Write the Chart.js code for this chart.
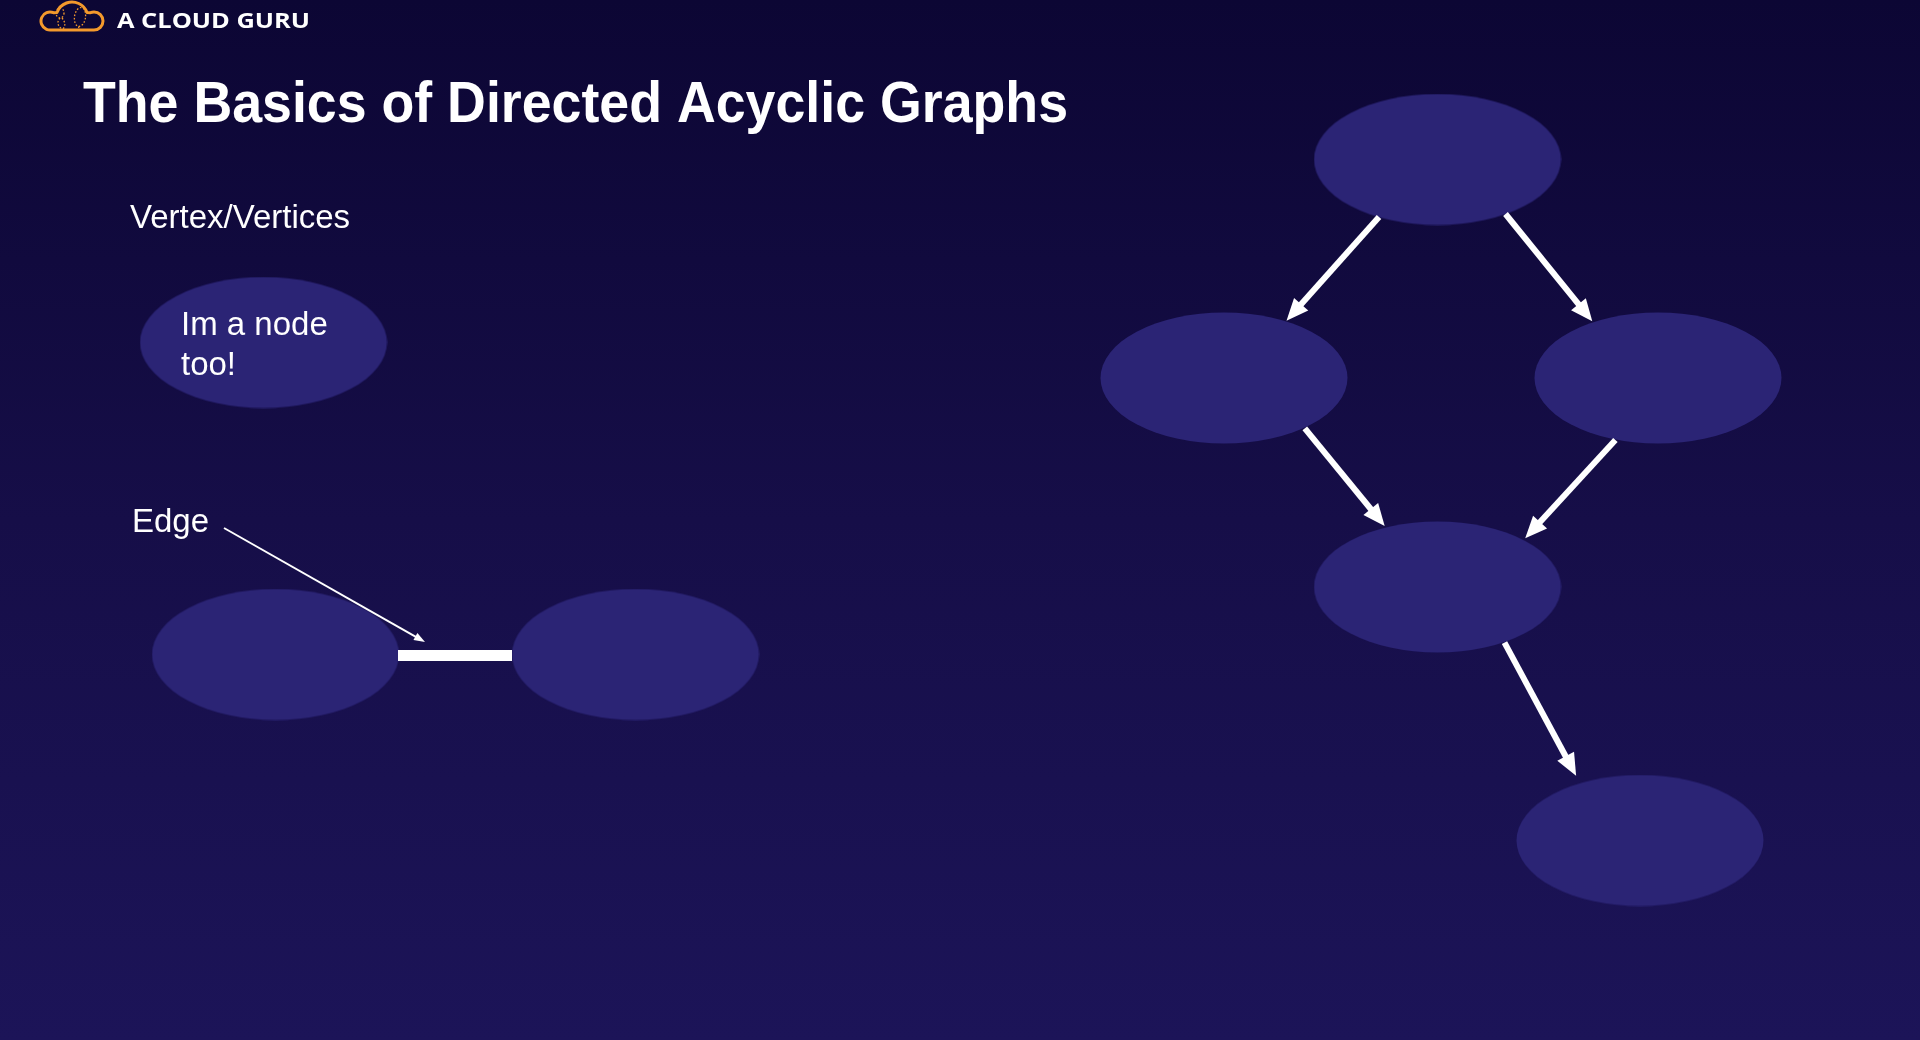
<!DOCTYPE html>
<html>
<head>
<meta charset="utf-8">
<title>The Basics of Directed Acyclic Graphs</title>
<script src="https://cdn.jsdelivr.net/npm/chart.js@4.4.1/dist/chart.umd.min.js"></script>
<style>
  html, body { margin: 0; padding: 0; background: #0d0735; overflow: hidden; }
  canvas { display: block; }
</style>
</head>
<body>
<canvas id="dagChart" width="1920" height="1040"></canvas>
<script>
// slide data, in slide units (0..1920 across, 0..1040 down)
const nodeX = [263.5, 275.5, 635.5, 1437.5, 1224, 1658, 1437.5, 1640];
const nodeY = [342.5, 654.5, 654.5, 159.5, 378, 378, 587, 840.5];
const nodeLabels = [["Im a node", "too!"], [], [], [], [], [], [], []];

// directed edges of the DAG (start on source node, tip on target node)
const arrowFromX = [1379, 1505.5, 1304.8, 1615.4, 1504.5];
const arrowFromY = [217, 214, 428.3, 440, 642.7];
const arrowToX = [1286.5, 1592.3, 1384.7, 1525.2, 1576.1];
const arrowToY = [320.7, 321.3, 526, 538.3, 775.7];

// plain edge between the two example nodes
const edgeX = [398, 512];
const edgeY = [655.5, 655.5];

// thin pointer from the "Edge" caption
const pointerX = [224, 425];
const pointerY = [528, 642];

const captions = ["Vertex/Vertices", "Edge"];
const captionX = [130, 132];
const captionY = [228.3, 531.7];

const titleText = "The Basics of Directed Acyclic Graphs";
const brandText = "A CLOUD GURU";

const nodeColor = "#2b2475";
const lineColor = "#ffffff";

// ellipse used as point style for every node
const nodeImg = document.createElement("canvas");
nodeImg.width = 248;
nodeImg.height = 132;
(function () {
  const c = nodeImg.getContext("2d");
  c.fillStyle = nodeColor;
  c.beginPath();
  c.ellipse(124, 66, 123.5, 65.5, 0, 0, Math.PI * 2);
  c.fill();
})();

function fitText(ctx, text, x, y, width) {
  const w = ctx.measureText(text).width;
  ctx.save();
  ctx.translate(x, y);
  ctx.scale(width / w, 1);
  ctx.fillText(text, 0, 0);
  ctx.restore();
}

function drawArrow(ctx, x1, y1, x2, y2, width, headLen, headWidth) {
  const dx = x2 - x1;
  const dy = y2 - y1;
  const len = Math.sqrt(dx * dx + dy * dy);
  const ux = dx / len;
  const uy = dy / len;
  const bx = x2 - ux * headLen;
  const by = y2 - uy * headLen;
  ctx.save();
  ctx.strokeStyle = lineColor;
  ctx.fillStyle = lineColor;
  ctx.lineWidth = width;
  ctx.lineCap = "butt";
  ctx.beginPath();
  ctx.moveTo(x1, y1);
  ctx.lineTo(bx + ux * 1, by + uy * 1);
  ctx.stroke();
  ctx.beginPath();
  ctx.moveTo(x2, y2);
  ctx.lineTo(bx - uy * headWidth / 2, by + ux * headWidth / 2);
  ctx.lineTo(bx + uy * headWidth / 2, by - ux * headWidth / 2);
  ctx.closePath();
  ctx.fill();
  ctx.restore();
}

const slidePlugin = {
  id: "slide",
  beforeDraw(chart) {
    const ctx = chart.ctx;
    const g = ctx.createLinearGradient(0, 0, 0, chart.height);
    g.addColorStop(0, "#0c0634");
    g.addColorStop(0.5, "#160e48");
    g.addColorStop(1, "#1c1458");
    ctx.save();
    ctx.fillStyle = g;
    ctx.fillRect(0, 0, chart.width, chart.height);
    ctx.restore();
  },
  afterDatasetsDraw(chart) {
    const ctx = chart.ctx;
    const sx = chart.scales.x;
    const sy = chart.scales.y;
    const px = (v) => sx.getPixelForValue(v);
    const py = (v) => sy.getPixelForValue(v);
    const unit = px(1) - px(0);

    // plain edge
    ctx.save();
    ctx.strokeStyle = lineColor;
    ctx.lineWidth = 11 * unit;
    ctx.beginPath();
    ctx.moveTo(px(edgeX[0]), py(edgeY[0]));
    ctx.lineTo(px(edgeX[1]), py(edgeY[1]));
    ctx.stroke();
    ctx.restore();

    // pointer
    drawArrow(ctx, px(pointerX[0]), py(pointerY[0]), px(pointerX[1]), py(pointerY[1]),
      2 * unit, 11 * unit, 8 * unit);

    // directed edges
    for (let i = 0; i < arrowFromX.length; i++) {
      drawArrow(ctx, px(arrowFromX[i]), py(arrowFromY[i]), px(arrowToX[i]), py(arrowToY[i]),
        6 * unit, 22 * unit, 19 * unit);
    }

    // text
    ctx.save();
    ctx.fillStyle = "#ffffff";
    ctx.textBaseline = "alphabetic";
    ctx.textAlign = "left";
    ctx.font = "33px 'Liberation Sans', Arial, sans-serif";
    for (let i = 0; i < captions.length; i++) {
      ctx.fillText(captions[i], px(captionX[i]), py(captionY[i]));
    }
    for (let i = 0; i < nodeLabels.length; i++) {
      nodeLabels[i].forEach((line, j) => {
        ctx.fillText(line, px(nodeX[i] - 82.5), py(nodeY[i] - 7.5 + j * 40));
      });
    }

    ctx.font = "bold 57px 'Liberation Sans', Arial, sans-serif";
    fitText(ctx, titleText, px(83), py(121.7), px(1068) - px(83));

    ctx.font = "bold 21px 'Open Sans', sans-serif";
    fitText(ctx, brandText, px(117), py(27.5), px(310) - px(117));
    ctx.restore();

    // cloud logo
    ctx.save();
    ctx.strokeStyle = "#f3992c";
    ctx.lineWidth = 3 * unit;
    ctx.lineJoin = "round";
    ctx.beginPath();
    ctx.moveTo(px(50), py(30));
    ctx.lineTo(px(94), py(30));
    ctx.arc(px(94), py(21), 9 * unit, Math.PI / 2, -Math.PI / 2 - 0.4, true);
    ctx.arc(px(72), py(18), 16 * unit, -0.35, Math.PI + 0.35, true);
    ctx.arc(px(50), py(21), 9 * unit, -Math.PI / 2 + 0.4, Math.PI / 2, true);
    ctx.closePath();
    ctx.stroke();

    ctx.lineWidth = 1.3 * unit;
    ctx.setLineDash([1.6 * unit, 1.8 * unit]);
    ctx.beginPath();
    ctx.ellipse(px(80), py(17), 5.5 * unit, 9.5 * unit, 0.15, 0, Math.PI * 2);
    ctx.stroke();
    ctx.beginPath();
    ctx.moveTo(px(79), py(26.5));
    ctx.lineTo(px(78), py(30));
    ctx.stroke();
    ctx.beginPath();
    ctx.ellipse(px(60), py(13), 4 * unit, 5 * unit, 0, 0, Math.PI * 2);
    ctx.stroke();
    ctx.beginPath();
    ctx.moveTo(px(60), py(18));
    ctx.quadraticCurveTo(px(55), py(24), px(62), py(29));
    ctx.moveTo(px(62), py(18));
    ctx.quadraticCurveTo(px(67), py(24), px(63), py(29));
    ctx.stroke();
    ctx.restore();
  },
};

const nodePoints = nodeX.map((x, i) => ({ x: x, y: nodeY[i] }));

const chart = new Chart(document.getElementById("dagChart"), {
  type: "scatter",
  data: {
    datasets: [
      {
        label: "Nodes",
        data: nodePoints,
        pointStyle: nodeImg,
        pointRadius: 10,
        pointHoverRadius: 10,
        clip: false,
      },
    ],
  },
  options: {
    responsive: false,
    devicePixelRatio: 1,
    animation: false,
    events: [],
    layout: { padding: 0, autoPadding: false },
    scales: {
      x: { type: "linear", min: 0, max: 1920, display: false },
      y: { type: "linear", min: 0, max: 1040, reverse: true, display: false },
    },
    plugins: {
      legend: { display: false },
      tooltip: { enabled: false },
      title: { display: false },
    },
  },
  plugins: [slidePlugin],
});
</script>
</body>
</html>
